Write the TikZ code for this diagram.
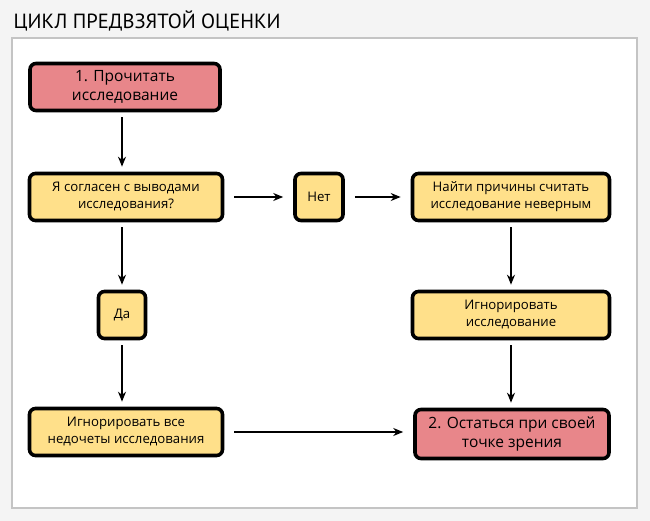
\documentclass[tikz,border=0pt]{standalone}
\usepackage{fontspec}
\setmainfont{Open Sans}
\newfontfamily\titlefont{PT Sans}
\usetikzlibrary{arrows.meta}

\definecolor{boxyellow}{HTML}{FFE08A}
\definecolor{boxpink}{HTML}{E8868A}
\definecolor{pagegray}{HTML}{F4F4F4}
\definecolor{panelline}{HTML}{C4C4C4}

\begin{document}
\begin{tikzpicture}[x=1pt,y=1pt,
    stepbox/.style={draw=black,line width=3.6pt,rounded corners=6pt,fill=boxyellow,
        align=center,inner sep=0pt,font=\fontsize{13.2}{17}\selectfont},
    keybox/.style={stepbox,fill=boxpink,font=\fontsize{15.5}{18.5}\selectfont},
    flow/.style={-{Stealth[length=10pt,width=8pt]},line width=1.6pt,shorten <=5pt,shorten >=5pt},
    sideflow/.style={flow,shorten <=10pt,shorten >=10pt}]
                \fill[pagegray] (0,0) rectangle (650,-521);
                \useasboundingbox (0,0) rectangle (650,-521);
                \draw[panelline,fill=white,line width=1.2pt] (12,-38) rectangle (637,-508);
                \node[anchor=west,font=\titlefont\fontsize{20.5}{24}\selectfont] (title) at (10,-21) {ЦИКЛ ПРЕДВЗЯТОЙ ОЦЕНКИ};
                \node[keybox,minimum width=190pt,minimum height=47pt] (read) at (125,-87) {1. Прочитать\\исследование};
                \node[stepbox,minimum width=193pt,minimum height=47pt] (agree) at (126,-197) {Я согласен с выводами\\исследования?};
                \node[stepbox,minimum width=48pt,minimum height=47pt] (no) at (319,-197) {Нет};
                \node[stepbox,minimum width=197pt,minimum height=47pt] (reasons) at (511,-197) {Найти причины считать\\исследование неверным};
                \node[stepbox,minimum width=47pt,minimum height=47pt] (yes) at (122,-315) {Да};
                \node[stepbox,minimum width=197pt,minimum height=47pt] (ignore) at (511,-315) {Игнорировать\\исследование};
                \node[stepbox,minimum width=193pt,minimum height=47pt] (flaws) at (126,-432) {Игнорировать все\\недочеты исследования};
                \node[keybox,minimum width=194pt,minimum height=49pt] (stay) at (512,-434) {2. Остаться при своей\\точке зрения};
                \draw[flow] (read.south -| yes) -- (agree.north -| yes);
                \draw[flow] (agree.south -| yes) -- (yes);
                \draw[flow] (yes) -- (flaws.north -| yes);
                \draw[sideflow] (agree) -- (no);
                \draw[sideflow] (no) -- (reasons);
                \draw[flow] (reasons) -- (ignore);
                \draw[flow] (ignore.south) -- (stay.north -| ignore.south);
                \draw[sideflow] (flaws.east) -- (stay.west |- flaws.east);
            \end{tikzpicture}
\end{document}
